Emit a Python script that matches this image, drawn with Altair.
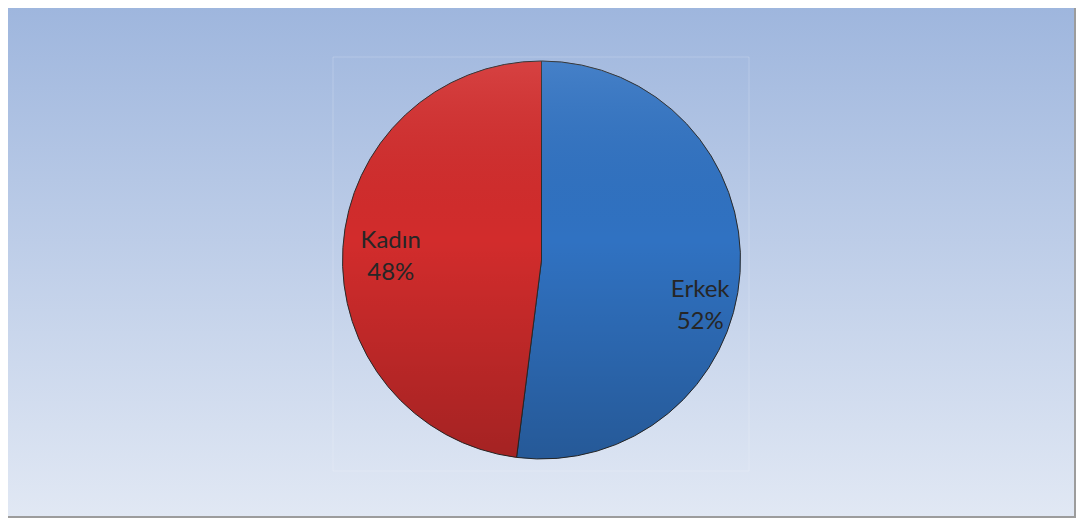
import altair as alt
import pandas as pd

labels = ["Erkek", "Kadın"]
values = [52, 48]
slice_colors = ["#3072c2", "#d22c2c"]

df = pd.DataFrame({"label": labels, "value": values})
one = pd.DataFrame({"a": [0]})

W, H = 1068, 510
CX, CY, R = 533.5, 252, 199

bg_grad = alt.LinearGradient(
    gradient="linear", x1=0, x2=0, y1=0, y2=1,
    stops=[alt.GradientStop(color="#9db5dd", offset=0),
           alt.GradientStop(color="#e1e8f4", offset=1)],
)
bg = alt.Chart(one).mark_rect(
    fill=bg_grad, stroke="#9c9c9c", strokeWidth=2
).encode(x=alt.value(-1), x2=alt.value(W - 1), y=alt.value(-12), y2=alt.value(H - 1))

plot_frame = alt.Chart(one).mark_rect(
    fillOpacity=0, stroke="#ffffff", strokeOpacity=0.2, strokeWidth=1
).encode(x=alt.value(325), x2=alt.value(741), y=alt.value(49), y2=alt.value(463))

base = alt.Chart(df).transform_calculate(
    txt="datum.label + '\\n' + datum.value + '%'"
)

pie = base.mark_arc(radius=R, stroke="#2b2b2b", strokeWidth=1).encode(
    theta=alt.Theta("value:Q", stack=True),
    color=alt.Color("label:N", scale=alt.Scale(domain=labels, range=slice_colors), legend=None),
    x=alt.value(CX), y=alt.value(CY),
)

shade_grad = alt.LinearGradient(
    gradient="linear", x1=0, x2=0, y1=0, y2=1,
    stops=[alt.GradientStop(color="rgba(255,255,255,0.10)", offset=0),
           alt.GradientStop(color="rgba(0,0,0,0.0)", offset=0.45),
           alt.GradientStop(color="rgba(0,0,0,0.22)", offset=1)],
)
shade = alt.Chart(one).mark_arc(
    radius=R, theta=0, theta2=6.2832, fill=shade_grad
).encode(x=alt.value(CX), y=alt.value(CY))

def label_layer(name, radius, dy):
    return base.mark_text(
        radius=radius, dy=dy, font="Lato", fontSize=24, lineBreak="\n",
        lineHeight=32, color="#262626", align="center", baseline="middle",
    ).encode(
        theta=alt.Theta("value:Q", stack=True),
        order=alt.Order("label:N"),
        text="txt:N",
        opacity=alt.condition(alt.datum.label == name, alt.value(1), alt.value(0)),
        x=alt.value(CX), y=alt.value(CY),
    )

chart = alt.layer(
    bg, plot_frame, pie, shade,
    label_layer("Kadın", 151, -10),
    label_layer("Erkek", 159, 20),
).properties(
    width=W, height=H, autosize=alt.AutoSizeParams(type="none"), padding=0
).configure_view(stroke=None)

chart.save("out.html", embed_options={"renderer": "svg", "actions": False})
